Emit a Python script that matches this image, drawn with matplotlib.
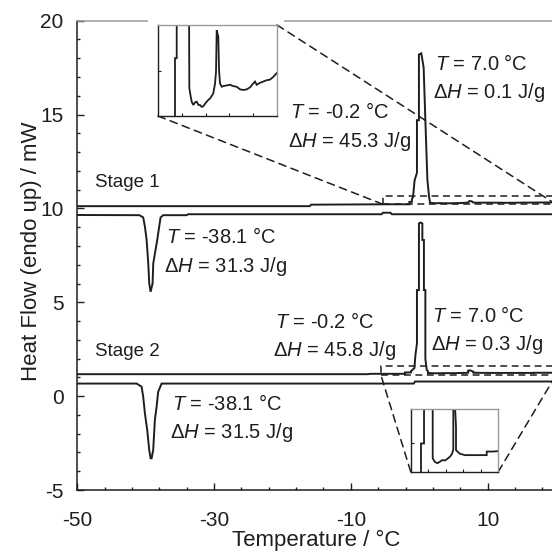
import matplotlib
matplotlib.use("Agg")
import matplotlib.pyplot as plt
import numpy as np
from matplotlib.patches import Rectangle, ConnectionPatch
from matplotlib.ticker import MultipleLocator, FixedLocator

plt.rcParams['font.family'] = ['Liberation Sans', 'DejaVu Sans']
plt.rcParams['mathtext.fontset'] = 'custom'
plt.rcParams['mathtext.rm'] = 'Liberation Sans'
plt.rcParams['mathtext.it'] = 'Liberation Sans:italic'
plt.rcParams['axes.unicode_minus'] = False

# ---- data (temperature in C, heat flow in mW) ----
# Stage 1, heating curve (upper line, melting peak)
s1_heat_t = [-50, -16.0, -15.8, -5.0, -1.43, -1.43, -1.07, -1.07, -0.91, -0.67, -0.33, -0.33,
             -0.04, -0.04, 0.31, 0.65, 0.9, 1.2, 1.45, 1.58, 1.87, 2.08, 2.42, 2.8, 3.13, 3.5,
             3.82, 4.2, 4.52, 4.9, 5.23, 5.6, 5.93, 6.3, 6.62, 6.98, 7.19, 7.33, 7.67, 7.82,
             8.03, 8.4, 8.72, 9.4, 10.13, 10.8, 11.53, 12.23, 13.0, 13.64, 14.33, 15.0, 15.38,
             15.74, 16.4, 17.12, 17.8, 18.53, 19.2, 19.94]
s1_heat_hf = [10.12, 10.12, 10.20, 10.22, 10.22, 10.349, 10.349, 10.50, 10.60, 11.5, 11.9, 14.7,
              14.7, 18.2, 18.26, 17.5, 14.7, 11.5, 10.6, 10.303, 10.290, 10.282, 10.277, 10.281,
              10.282, 10.277, 10.277, 10.274, 10.275, 10.279, 10.282, 10.285, 10.287, 10.291,
              10.295, 10.310, 10.328, 10.392, 10.382, 10.331, 10.310, 10.305, 10.306, 10.307,
              10.308, 10.306, 10.305, 10.301, 10.300, 10.301, 10.304, 10.310, 10.313, 10.308,
              10.311, 10.313, 10.315, 10.316, 10.320, 10.326]

# Stage 1, cooling curve (lower line, crystallisation dip)
s1_cool_t = [-50, -40.92, -40.36, -40.11, -39.86, -39.62, -39.48, -39.28, -38.99, -38.89,
             -38.31, -38.02, -37.82, -37.44, -34.0, -33.8, -5.5, -5.3, -4.2, -4.0, 20]
s1_cool_hf = [9.65, 9.64, 9.52, 9.03, 8.32, 7.07, 6.01, 5.56, 6.0, 7.07,
              8.32, 9.03, 9.52, 9.64, 9.64, 9.69, 9.69, 9.77, 9.77, 9.69, 9.69]

# Stage 2, heating curve
s2_heat_t = [-50, -7.5, -7.2, -2.06, -2.06, -1.2, -1.2, -0.7, -0.55, -0.33, -0.33, -0.04, -0.04,
             0.2, 0.46, 0.46, 0.69, 0.69, 0.9, 0.9, 1.1, 1.28, 1.28, 1.9, 2.59, 3.3, 4.0, 4.8,
             5.5, 6.22, 6.8, 7.16, 7.16, 7.5, 7.93, 7.93, 9.07, 10.5, 13.0, 16.69, 16.69, 18.5, 20]
s2_heat_hf = [1.17, 1.17, 1.19, 1.19, 1.263, 1.263, 1.33, 1.5, 2.2, 2.8, 5.65, 5.65, 9.2,
              9.25, 9.2, 8.32, 8.32, 5.65, 5.65, 2.0, 1.40, 1.33, 1.230, 1.222, 1.219, 1.222,
              1.226, 1.225, 1.229, 1.2335, 1.24, 1.25, 1.36, 1.37, 1.30, 1.248, 1.240, 1.237,
              1.237, 1.237, 1.245, 1.245, 1.246]

# Stage 2, cooling curve
s2_cool_t = [-50, -41.32, -40.59, -40.36, -40.11, -39.77, -39.48, -39.28, -39.13, -38.90,
             -38.65, -38.40, -38.17, -37.67, -0.8, -0.6, 20]
s2_cool_hf = [0.67, 0.67, 0.50, -0.03, -0.92, -1.81, -2.87, -3.31, -3.31, -2.87,
              -1.26, -0.56, 0.23, 0.67, 0.67, 0.78, 0.78]

# zoom windows shown in the insets
zoom1_x = (-5.3, 20)
zoom1_rect_y = (10.22, 10.68)
zoom1_ylim = (10.26, 10.40)
zoom2_x = (-5.6, 20)
zoom2_rect_y = (1.12, 1.60)
zoom2_ylim = (1.20, 1.34)

ink = '#1e1e1e'
grey = '#9a9a9a'

fig = plt.figure(figsize=(5.52, 5.52), dpi=100)
ax = fig.add_axes([0.140, 0.1123, 0.8672, 0.8502])

for t, hf in [(s1_heat_t, s1_heat_hf), (s1_cool_t, s1_cool_hf),
              (s2_heat_t, s2_heat_hf), (s2_cool_t, s2_cool_hf)]:
    ax.plot(t, hf, color=ink, lw=1.4, solid_joinstyle='miter')

ax.set_xlim(-50, 20)
ax.set_ylim(-5, 20)
ax.set_xticks([-50, -30, -10, 10])
ax.xaxis.set_minor_locator(FixedLocator(np.arange(-50, 21, 4)))
ax.yaxis.set_major_locator(MultipleLocator(5))
ax.yaxis.set_minor_locator(MultipleLocator(1))
ax.tick_params(which='both', direction='in', color=ink, width=1.0, labelsize=15,
               labelcolor=ink)
ax.tick_params(which='major', length=4.8)
ax.tick_params(which='minor', length=2.4)
ax.tick_params(axis='x', pad=15)
ax.tick_params(axis='y', pad=10)
for s in ['left', 'bottom']:
    ax.spines[s].set_color(ink)
    ax.spines[s].set_linewidth(1.1)
ax.spines['top'].set_color(grey)
ax.spines['top'].set_linewidth(1.1)
ax.spines['right'].set_visible(False)

ax.set_xlabel('Temperature / °C', fontsize=16, color=ink)
ax.set_ylabel('Heat Flow (endo up) / mW', fontsize=16, color=ink)
ax.xaxis.set_label_coords(0.5, -0.085)
ax.yaxis.set_label_coords(-0.074, 0.509)

# dashed zoom rectangles on the main plot
dash = (0, (4.5, 3))
ax.add_patch(Rectangle((zoom1_x[0], zoom1_rect_y[0]), zoom1_x[1] - zoom1_x[0],
                       zoom1_rect_y[1] - zoom1_rect_y[0], fill=False, ec=ink, lw=1.1, ls=dash))
ax.add_patch(Rectangle((zoom2_x[0], zoom2_rect_y[0]), zoom2_x[1] - zoom2_x[0],
                       zoom2_rect_y[1] - zoom2_rect_y[0], fill=False, ec=ink, lw=1.1, ls=dash))

# annotations
fs = 14.5
def note(x, y, s, size=fs):
    ax.text(x, y, s, fontsize=size, color=ink, va='baseline', ha='left')

note(2.26, 17.37, r'$T$ = 7.0 °C')
note(2.01, 15.87, r'$\Delta H$ = 0.1 J/g')
note(-18.93, 14.80, r'$T$ = -0.2 °C')
note(-19.22, 13.29, r'$\Delta H$ = 45.3 J/g')
note(-47.4, 11.12, 'Stage 1', 13.5)
note(-37.04, 8.14, r'$T$ = -38.1 °C')
note(-37.33, 6.63, r'$\Delta H$ = 31.3 J/g')
note(-21.12, 3.61, r'$T$ = -0.2 °C')
note(-21.41, 2.14, r'$\Delta H$ = 45.8 J/g')
note(1.92, 3.96, r'$T$ = 7.0 °C')
note(1.77, 2.46, r'$\Delta H$ = 0.3 J/g')
note(-47.4, 2.14, 'Stage 2', 13.5)
note(-36.21, -0.74, r'$T$ = -38.1 °C')
note(-36.46, -2.25, r'$\Delta H$ = 31.5 J/g')

# white patch behind inset 1 hiding the top frame line
fig.add_artist(Rectangle((148 / 552, 1 - 28 / 552), 136 / 552, 14 / 552,
                         transform=fig.transFigure, fc='white', ec='none', zorder=1))

def make_inset(rect, ylim, t, hf, ytick):
    a = fig.add_axes(rect, zorder=3)
    a.plot(t, hf, color=ink, lw=1.3, solid_joinstyle='miter')
    a.set_xlim(-5, 20)
    a.set_ylim(*ylim)
    a.set_xticks([0, 5, 10, 15])
    a.set_yticks([ytick])
    a.tick_params(direction='in', length=2.2, width=0.8, color=ink,
                  labelbottom=False, labelleft=False)
    for s in ['left', 'bottom']:
        a.spines[s].set_color(ink)
        a.spines[s].set_linewidth(1.0)
    for s in ['top', 'right']:
        a.spines[s].set_color(grey)
        a.spines[s].set_linewidth(1.0)
    return a

in1 = make_inset([158 / 552, 1 - 116 / 552, 119 / 552, 91 / 552], zoom1_ylim,
                 s1_heat_t, s1_heat_hf, 10.33)
in2 = make_inset([410.7 / 552, 1 - 471.7 / 552, 87.6 / 552, 62.7 / 552], zoom2_ylim,
                 s2_heat_t, s2_heat_hf, 1.265)

# dashed connectors from insets to the zoom rectangles
links = [(in1, (0, 0), (zoom1_x[0], zoom1_rect_y[0])),
         (in1, (1, 1), (zoom1_x[1], zoom1_rect_y[0])),
         (in2, (0, 0), (zoom2_x[0], zoom2_rect_y[0])),
         (in2, (1, 0), (zoom2_x[1], zoom2_rect_y[0]))]
for a, pa, pb in links:
    cp = ConnectionPatch(xyA=pa, coordsA=a.transAxes, xyB=pb, coordsB=ax.transData,
                         color=ink, lw=1.1, ls=(0, (5, 3.5)), zorder=2)
    fig.add_artist(cp)

fig.savefig('out.png', dpi=100)
